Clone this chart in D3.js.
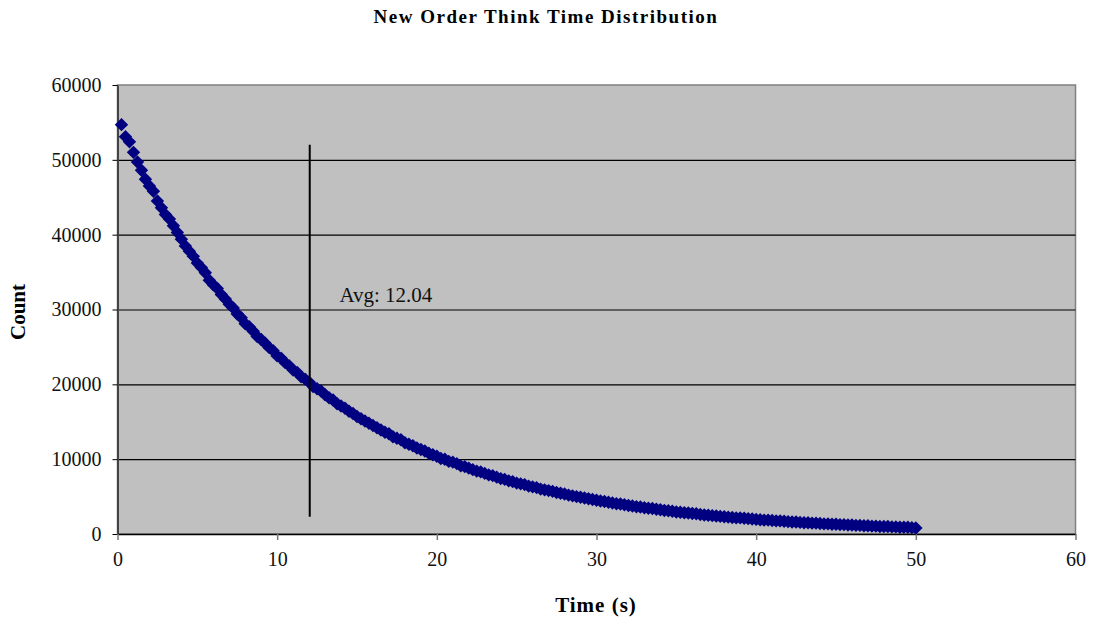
<!DOCTYPE html>
<html>
<head>
<meta charset="utf-8">
<script src="https://cdn.jsdelivr.net/npm/d3@7"></script>
<style>
  body { margin: 0; background: #fff; }
  text { font-family: "Liberation Serif", "Times New Roman", serif; }
</style>
</head>
<body>
<div id="chart"></div>
<script>
// think time bins (s) and counts
const times = [
  0.25, 0.5, 0.75, 1, 1.25, 1.5, 1.75, 2, 2.25, 2.5, 2.75, 3, 3.25, 3.5, 3.75, 4, 4.25, 4.5, 4.75, 5,
  5.25, 5.5, 5.75, 6, 6.25, 6.5, 6.75, 7, 7.25, 7.5, 7.75, 8, 8.25, 8.5, 8.75, 9, 9.25, 9.5, 9.75, 10,
  10.25, 10.5, 10.75, 11, 11.25, 11.5, 11.75, 12, 12.25, 12.5, 12.75, 13, 13.25, 13.5, 13.75, 14, 14.25, 14.5, 14.75, 15,
  15.25, 15.5, 15.75, 16, 16.25, 16.5, 16.75, 17, 17.25, 17.5, 17.75, 18, 18.25, 18.5, 18.75, 19, 19.25, 19.5, 19.75, 20,
  20.25, 20.5, 20.75, 21, 21.25, 21.5, 21.75, 22, 22.25, 22.5, 22.75, 23, 23.25, 23.5, 23.75, 24, 24.25, 24.5, 24.75, 25,
  25.25, 25.5, 25.75, 26, 26.25, 26.5, 26.75, 27, 27.25, 27.5, 27.75, 28, 28.25, 28.5, 28.75, 29, 29.25, 29.5, 29.75, 30,
  30.25, 30.5, 30.75, 31, 31.25, 31.5, 31.75, 32, 32.25, 32.5, 32.75, 33, 33.25, 33.5, 33.75, 34, 34.25, 34.5, 34.75, 35,
  35.25, 35.5, 35.75, 36, 36.25, 36.5, 36.75, 37, 37.25, 37.5, 37.75, 38, 38.25, 38.5, 38.75, 39, 39.25, 39.5, 39.75, 40,
  40.25, 40.5, 40.75, 41, 41.25, 41.5, 41.75, 42, 42.25, 42.5, 42.75, 43, 43.25, 43.5, 43.75, 44, 44.25, 44.5, 44.75, 45,
  45.25, 45.5, 45.75, 46, 46.25, 46.5, 46.75, 47, 47.25, 47.5, 47.75, 48, 48.25, 48.5, 48.75, 49, 49.25, 49.5, 49.75, 50
];

const counts = [
  54700, 53100, 52400, 51000, 49700, 48600, 47400, 46500, 45800, 44500, 43600, 42700, 42100, 41200, 40300, 39400, 38500, 37800, 37100, 36200,
  35600, 34900, 33900, 33300, 32800, 32000, 31400, 30700, 30200, 29400, 28900, 28100, 27700, 27100, 26400, 26000, 25500, 24900, 24500, 23800,
  23500, 22900, 22500, 21900, 21600, 21000, 20700, 20300, 19700, 19400, 19100, 18600, 18200, 17900, 17400, 17100, 16800, 16400, 16100, 15700,
  15400, 15100, 14800, 14500, 14200, 13900, 13600, 13400, 13000, 12800, 12600, 12200, 12000, 11800, 11500, 11300, 11100, 10800, 10600, 10400,
  10100, 10000, 9700, 9600, 9400, 9100, 9000, 8800, 8600, 8400, 8300, 8100, 7900, 7800, 7600, 7400, 7300, 7100, 7000, 6800,
  6700, 6600, 6400, 6300, 6200, 6000, 5900, 5800, 5700, 5550, 5450, 5350, 5200, 5100, 5000, 4900, 4800, 4700, 4600, 4500,
  4400, 4350, 4250, 4150, 4050, 4000, 3900, 3800, 3750, 3650, 3600, 3500, 3450, 3400, 3300, 3250, 3150, 3100, 3050, 2950,
  2900, 2850, 2800, 2750, 2700, 2600, 2550, 2500, 2450, 2400, 2350, 2300, 2250, 2200, 2150, 2150, 2100, 2050, 2000, 1950,
  1900, 1850, 1850, 1800, 1750, 1750, 1700, 1650, 1600, 1600, 1550, 1500, 1500, 1450, 1450, 1400, 1350, 1350, 1300, 1300,
  1250, 1250, 1200, 1200, 1150, 1150, 1100, 1100, 1050, 1050, 1000, 1000, 1000, 950, 950, 900, 900, 900, 850, 800
];

const xTicks = [0, 10, 20, 30, 40, 50, 60];
const yTicks = [0, 10000, 20000, 30000, 40000, 50000, 60000];

const avgValue = 12.04;
const avgLineRange = [2300, 52000];

var margin = { top: 85, right: 20.5, bottom: 88, left: 117.5 },
    width = 1096 - margin.left - margin.right,
    height = 622 - margin.top - margin.bottom;

let svg = d3.select("#chart").append("svg")
    .attr("width", 1096)
    .attr("height", 622);

let g = svg.append("g")
    .attr("transform", "translate(" + margin.left + "," + margin.top + ")");

let x = d3.scaleLinear().domain([0, 60]).range([0, width]);
let y = d3.scaleLinear().domain([0, 60000]).range([height, 0]);

// plot area
g.append("rect")
    .attr("width", width)
    .attr("height", height)
    .attr("fill", "#c0c0c0")
    .attr("stroke", "#808080")
    .attr("stroke-width", 1.5);

// gridlines
g.append("g")
    .call(d3.axisLeft(y).tickValues(yTicks.slice(1, -1)).tickSize(-width).tickFormat(""))
    .call(a => a.select(".domain").remove())
    .selectAll("line")
    .attr("stroke", "#000")
    .attr("stroke-width", 1.2);

// y axis
let yAxis = g.append("g")
    .call(d3.axisLeft(y).tickValues(yTicks).tickSizeInner(5).tickSizeOuter(0).tickPadding(11).tickFormat(d3.format("d")));
yAxis.select(".domain").attr("stroke", "#444").attr("stroke-width", 2);
yAxis.selectAll("line").attr("stroke", "#000");
yAxis.selectAll("text")
    .style("font-size", "20px")
    .attr("fill", "#111");

// x axis
let xAxis = g.append("g")
    .attr("transform", "translate(0," + height + ")")
    .call(d3.axisBottom(x).tickValues(xTicks).tickSizeInner(6).tickSizeOuter(0).tickPadding(12));
xAxis.select(".domain").attr("stroke", "#000").attr("stroke-width", 1.5);
xAxis.selectAll("line").attr("stroke", "#777").attr("stroke-width", 1.5);
xAxis.selectAll("text")
    .style("font-size", "20px")
    .attr("fill", "#111");

// data points
const diamond = d3.symbol().type(d3.symbolSquare).size(90);
g.append("g")
    .selectAll("path")
    .data(times.map((t, i) => ({ t: t, c: counts[i] })))
    .enter()
    .append("path")
    .attr("d", diamond)
    .attr("transform", d => "translate(" + x(d.t) + "," + y(d.c) + ") rotate(45)")
    .attr("fill", "#000080");

// average marker
g.append("line")
    .attr("x1", x(avgValue)).attr("x2", x(avgValue))
    .attr("y1", y(avgLineRange[0])).attr("y2", y(avgLineRange[1]))
    .attr("stroke", "#000")
    .attr("stroke-width", 2);

g.append("text")
    .attr("x", x(13.9))
    .attr("y", y(30950))
    .style("font-size", "21px")
    .attr("fill", "#111")
    .text("Avg: " + avgValue.toFixed(2));

// titles
svg.append("text")
    .attr("x", 546)
    .attr("y", 23)
    .attr("text-anchor", "middle")
    .style("font-size", "19px")
    .style("font-weight", "bold")
    .style("letter-spacing", "1.5px")
    .text("New Order Think Time Distribution");

svg.append("text")
    .attr("x", 596)
    .attr("y", 612)
    .attr("text-anchor", "middle")
    .style("font-size", "21px")
    .style("font-weight", "bold")
    .style("letter-spacing", "1px")
    .text("Time (s)");

svg.append("text")
    .attr("transform", "translate(25,312) rotate(-90)")
    .attr("text-anchor", "middle")
    .style("font-size", "21px")
    .style("font-weight", "bold")
    .text("Count");
</script>
</body>
</html>
